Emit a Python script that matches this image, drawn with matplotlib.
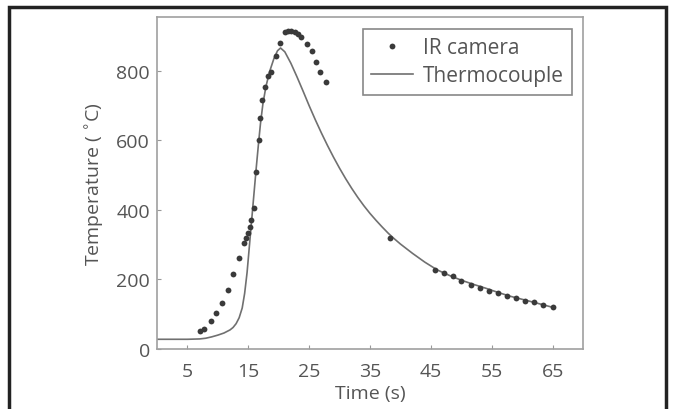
import matplotlib
matplotlib.use("Agg")
import matplotlib.pyplot as plt
from matplotlib.patches import Rectangle

# Données
ir_t = [7.0, 7.7, 8.8, 9.7, 10.7, 11.6, 12.5, 13.5, 14.3, 14.6, 14.9, 15.2, 15.5,
        15.9, 16.2, 16.7, 16.9, 17.3, 17.8, 18.3, 18.8, 19.5, 20.2, 21.0, 21.5,
        22.1, 22.6, 23.2, 23.7, 24.6, 25.4, 26.2, 26.8, 27.7, 38.3,
        45.6, 47.2, 48.6, 50.0, 51.6, 53.0, 54.6, 56.1, 57.5, 59.0, 60.4, 62.0, 63.5, 65.0]
ir_temp = [53, 57, 80, 103, 133, 170, 215, 263, 305, 320, 335, 350, 370,
           405, 508, 602, 664, 717, 753, 786, 798, 844, 880, 911, 914,
           914, 911, 906, 897, 878, 856, 825, 796, 769, 318,
           228, 219, 209, 197, 184, 175, 168, 160, 153, 146, 139, 134, 127, 120]

tc_t = [0, 5, 7, 8, 9, 10, 11, 12, 12.5, 13, 13.5, 14, 14.4, 14.8, 15.1, 15.4, 15.7,
        16.0, 16.3, 16.7, 17.0, 17.4, 17.9, 18.5, 19.2, 19.8, 20.3, 21, 22, 23, 24,
        25, 26, 27, 28, 29, 30, 31, 32, 33, 34, 35, 36, 37, 38, 39, 40, 42, 44, 46,
        48, 50, 52, 54, 56, 58, 60, 62, 65]
tc_temp = [28, 28, 29, 31, 35, 40, 46, 55, 62, 73, 90, 118, 160, 220, 280, 340, 400,
           460, 520, 595, 648, 705, 755, 798, 835, 858, 866, 855, 822, 783, 742,
           700, 660, 622, 586, 552, 520, 490, 462, 436, 412, 390, 370, 351, 333, 317,
           302, 275, 250, 228, 212, 198, 186, 175, 163, 152, 143, 134, 120]

x_ticks = [5, 15, 25, 35, 45, 55, 65]
y_ticks = [0, 200, 400, 600, 800]

plt.rcParams['font.family'] = ['Open Sans', 'DejaVu Sans']

fig = plt.figure(figsize=(6.75, 4.1), dpi=100)
ax = fig.add_axes([0.2326, 0.1463, 0.6311, 0.8097])

ax.plot(tc_t, tc_temp, color='#707070', lw=1.2, label='Thermocouple', zorder=2)
ax.plot(ir_t, ir_temp, 'o', color='#3a3a3a', ms=4.2, mew=0, label='IR camera', zorder=3)

ax.set_xlim(0, 70)
ax.set_ylim(0, 955)
ax.set_xticks(x_ticks)
ax.set_yticks(y_ticks)
ax.tick_params(direction='in', length=3, width=0.8, color='#999999',
               labelcolor='#555555', labelsize=14)
ax.tick_params(axis='x', pad=9)
ax.tick_params(axis='y', pad=5)
for s in ax.spines.values():
    s.set_color('#a0a0a0')
    s.set_linewidth(1.2)

ax.set_xlabel('Time (s)', fontsize=14, color='#555555', labelpad=3)
ax.set_ylabel('Temperature ( $^{\\circ}$C)', fontsize=14, color='#555555', labelpad=7)

handles, labels = ax.get_legend_handles_labels()
leg = ax.legend(handles[::-1], labels[::-1], loc='upper right', bbox_to_anchor=(0.975, 0.965),
                fancybox=False, framealpha=1, edgecolor='#888888', fontsize=15,
                handlelength=2.0, handletextpad=0.5, borderpad=0.4, labelspacing=0.35,
                borderaxespad=0)
leg.get_frame().set_linewidth(1.2)
for t in leg.get_texts():
    t.set_color('#555555')

# Cadre extérieur
fig.patches.append(Rectangle((9 / 675, -0.05), 657 / 675, 1.05 - 8 / 410,
                             transform=fig.transFigure, fill=False,
                             edgecolor='#222222', linewidth=2.5))

fig.savefig("out.png", dpi=100)
